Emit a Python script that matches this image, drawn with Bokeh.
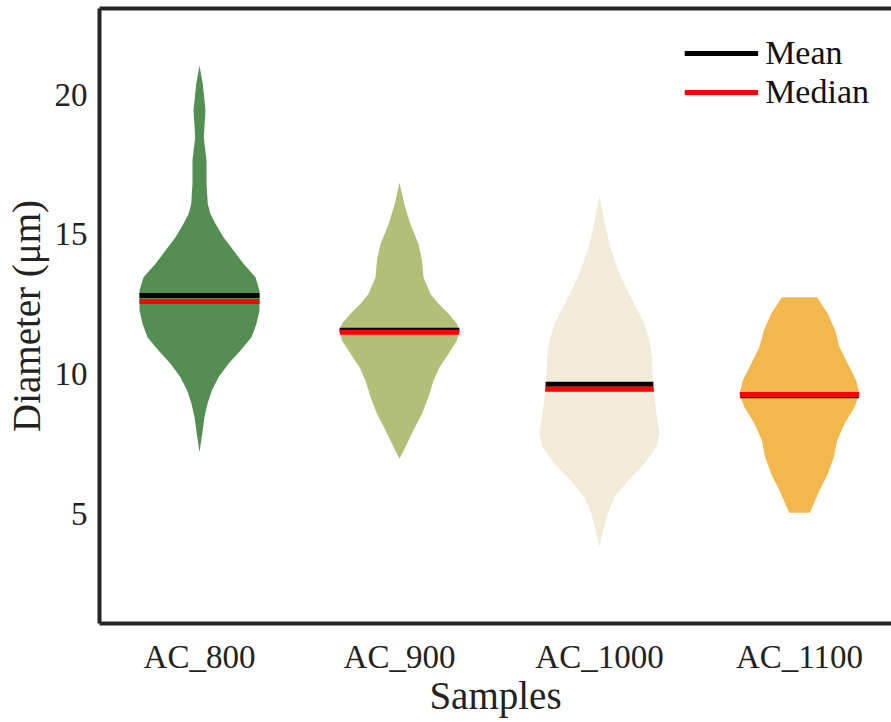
import numpy as np
from bokeh.plotting import figure
from bokeh.models import (Range1d, FixedTicker, LinearAxis, Legend, LegendItem)
from bokeh.embed import file_html
from bokeh.resources import INLINE

# ---------------- data ----------------
categories = ["AC_800", "AC_900", "AC_1000", "AC_1100"]
colors = ["#548e52", "#b0c076", "#f2ebd7", "#f2b84d"]

means = [12.81, 11.57, 9.64, 9.23]
medians = [12.60, 11.50, 9.46, 9.27]

# violin outlines: diameter levels (top -> bottom) and relative density width (max = 1)
ac800_y = [21.04, 20.38, 19.43, 18.47, 17.64, 16.81, 16.09, 15.73, 15.38, 14.90, 14.42,
           13.95, 13.47, 12.99, 12.28, 11.80, 11.32, 10.85, 10.37, 9.89, 9.42, 8.94,
           8.46, 7.87, 7.21]
ac800_w = [0.0, 0.055, 0.10, 0.072, 0.117, 0.117, 0.138, 0.183, 0.267, 0.40, 0.567,
           0.733, 0.933, 1.0, 1.0, 0.95, 0.867, 0.683, 0.483, 0.317, 0.208, 0.133,
           0.083, 0.045, 0.0]

ac900_y = [16.86, 16.09, 15.38, 14.66, 14.07, 13.47, 12.87, 12.52, 12.16, 11.80, 11.56,
           11.20, 10.73, 10.25, 9.77, 9.18, 8.58, 7.99, 7.51, 6.97]
ac900_w = [0.0, 0.08, 0.18, 0.317, 0.375, 0.40, 0.517, 0.65, 0.817, 0.958, 1.0,
           0.958, 0.817, 0.667, 0.567, 0.483, 0.375, 0.233, 0.125, 0.0]

ac1000_y = [16.39, 15.50, 14.54, 13.59, 12.63, 11.80, 11.20, 10.61, 10.01, 9.30, 8.58,
            7.87, 7.39, 6.80, 6.20, 5.60, 5.01, 4.41, 3.81]
ac1000_w = [0.0, 0.078, 0.18, 0.333, 0.55, 0.75, 0.833, 0.872, 0.883, 0.912, 0.95,
            1.0, 0.95, 0.75, 0.483, 0.25, 0.138, 0.062, 0.0]

ac1100_y = [12.75, 12.16, 11.56, 10.97, 10.37, 9.77, 9.30, 8.82, 8.23, 7.63, 7.03,
            6.44, 5.84, 5.04]
ac1100_w = [0.295, 0.472, 0.595, 0.667, 0.805, 0.945, 1.0, 0.917, 0.75, 0.628, 0.572,
            0.472, 0.333, 0.172]

profiles = [(ac800_y, ac800_w), (ac900_y, ac900_w), (ac1000_y, ac1000_w), (ac1100_y, ac1100_w)]
y_ticks = [5, 10, 15, 20]

# ---------------- styling ----------------
FONT = "Liberation Serif"
HALF = 0.30          # max half-width of a violin, in category units
TICK_FS = "33px"
LABEL_FS = "39px"
LEG_FS = "34px"
AX_COLOR = "#262626"

centers = [i + 0.5 for i in range(len(categories))]

p = figure(width=891, height=722, output_backend="svg", toolbar_location=None,
           x_range=Range1d(0, 3.96), y_range=Range1d(1.08, 23.08),
           min_border_left=99, min_border_right=0, min_border_top=8, min_border_bottom=99,
           background_fill_color="white", border_fill_color="white")
p.outline_line_color = None
p.grid.visible = False

# violins
xs, ys = [], []
for c, (yy, ww) in zip(centers, profiles):
    yy = np.asarray(yy, float)
    ww = np.asarray(ww, float) * HALF
    xs.append(list(c + ww) + list((c - ww)[::-1]))
    ys.append(list(yy) + list(yy[::-1]))
p.patches(xs, ys, fill_color=colors, line_color=None, fill_alpha=1.0)

# mean & median lines spanning the violin width at that level
def halfwidth(level, yy, ww):
    yy = np.asarray(yy, float)[::-1]
    ww = np.asarray(ww, float)[::-1]
    return float(np.interp(level, yy, ww)) * HALF

mx0, mx1, my = [], [], []
dx0, dx1, dy = [], [], []
for c, (yy, ww), m, d in zip(centers, profiles, means, medians):
    hm = halfwidth(m, yy, ww)
    hd = halfwidth(d, yy, ww)
    mx0.append(c - hm); mx1.append(c + hm); my.append(m)
    dx0.append(c - hd); dx1.append(c + hd); dy.append(d)

r_mean = p.segment(mx0, my, mx1, my, line_color="black", line_width=5, line_cap="butt")
r_med = p.segment(dx0, dy, dx1, dy, line_color="red", line_width=5, line_cap="butt")

# axes
xa = p.xaxis[0]
xa.ticker = FixedTicker(ticks=centers)
xa.major_label_overrides = {c: lab for c, lab in zip(centers, categories)}
xa.axis_label = "Samples"
ya = p.yaxis[0]
ya.ticker = FixedTicker(ticks=y_ticks)
ya.axis_label = "Diameter (\u03bcm)"

for ax in (xa, ya):
    ax.axis_line_width = 4
    ax.axis_line_color = AX_COLOR
    ax.major_tick_line_color = None
    ax.minor_tick_line_color = None
    ax.major_tick_out = 0
    ax.minor_tick_out = 0
    ax.major_label_text_font = FONT
    ax.major_label_text_font_size = TICK_FS
    ax.major_label_text_color = "#222222"
    ax.axis_label_text_font = FONT
    ax.axis_label_text_font_size = LABEL_FS
    ax.axis_label_text_font_style = "normal"
    ax.axis_label_text_color = "#222222"
xa.major_label_standoff = 15
xa.axis_label_standoff = -4
ya.major_label_standoff = 12
ya.axis_label_standoff = 4
ya.major_label_orientation = "horizontal"

top = LinearAxis(ticker=FixedTicker(ticks=[]), axis_line_width=4, axis_line_color=AX_COLOR,
                 major_tick_line_color=None, minor_tick_line_color=None,
                 major_label_standoff=0, major_tick_out=0, minor_tick_out=0)
p.add_layout(top, "above")

legend = Legend(items=[LegendItem(label="Mean", renderers=[r_mean]),
                       LegendItem(label="Median", renderers=[r_med])],
                location="top_right", border_line_color=None, background_fill_alpha=0,
                label_text_font=FONT, label_text_font_size=LEG_FS, label_text_color="#111111",
                glyph_width=74, glyph_height=20, spacing=1, padding=0, margin=22,
                label_standoff=7, title=" ", title_text_font_size="3px", title_standoff=0)
p.add_layout(legend)

open("out.html", "w").write(file_html(p, INLINE))
